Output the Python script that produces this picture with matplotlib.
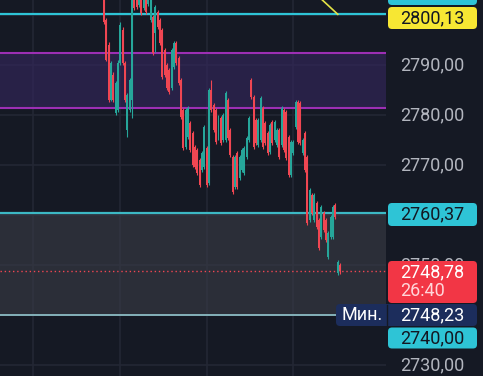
import matplotlib.pyplot as plt
from matplotlib.patches import FancyBboxPatch

# candles, oldest first
opens = [2804.6, 2799.0, 2794.0, 2783.0, 2788.0, 2780.4, 2781.0, 2790.4, 2797.0, 2790.4,
         2777.0, 2781.0, 2783.0, 2803.8, 2803.6, 2802.0, 2804.0, 2801.4, 2803.6, 2802.2,
         2799.0, 2799.6, 2796.4, 2800.6, 2799.0, 2797.0, 2793.0, 2790.0, 2789.0, 2785.4,
         2789.6, 2794.4, 2791.4, 2787.0, 2781.0, 2773.6, 2775.6, 2778.4, 2776.4, 2773.6,
         2773.0, 2771.0, 2769.0, 2769.6, 2773.4, 2766.4, 2785.0, 2782.0, 2781.0, 2775.4,
         2779.4, 2775.0, 2775.0, 2783.0, 2777.0, 2771.6, 2765.6, 2772.4, 2767.4, 2769.0,
         2768.4, 2771.6, 2775.0, 2787.0, 2783.6, 2779.0, 2774.0, 2775.0, 2781.4, 2778.4,
         2776.4, 2772.6, 2778.6, 2775.0, 2774.0, 2777.0, 2774.0, 2781.0, 2780.6, 2775.6,
         2768.0, 2772.4, 2777.6, 2782.6, 2782.4, 2772.4, 2776.4, 2771.6, 2759.0, 2764.0,
         2759.0, 2762.4, 2759.0, 2755.6, 2760.4, 2759.0, 2751.6, 2755.6, 2755.6, 2762.0,
         2748.4, 2750.0]
highs = [2806.0, 2799.4, 2794.6, 2790.8, 2788.6, 2786.8, 2791.0, 2798.6, 2797.6, 2790.8,
         2784.4, 2787.4, 2806.0, 2806.0, 2806.0, 2806.0, 2806.0, 2806.0, 2806.0, 2806.0,
         2806.0, 2800.0, 2802.0, 2801.0, 2799.4, 2797.4, 2793.4, 2790.4, 2789.4, 2793.4,
         2794.8, 2794.8, 2791.8, 2787.4, 2781.4, 2781.4, 2781.8, 2778.8, 2776.8, 2774.0,
         2773.4, 2771.4, 2772.8, 2778.0, 2773.8, 2785.4, 2787.0, 2782.4, 2781.4, 2780.0,
         2779.8, 2780.4, 2784.8, 2783.4, 2777.4, 2772.0, 2772.0, 2772.8, 2772.0, 2773.4,
         2773.8, 2775.8, 2779.8, 2787.4, 2784.0, 2779.4, 2779.4, 2783.8, 2781.8, 2778.8,
         2776.8, 2778.4, 2779.0, 2779.0, 2777.4, 2777.4, 2781.8, 2781.4, 2781.0, 2776.0,
         2775.0, 2775.0, 2783.0, 2783.0, 2782.8, 2775.4, 2776.8, 2772.0, 2765.4, 2764.4,
         2764.4, 2762.8, 2759.4, 2762.0, 2760.8, 2759.4, 2756.8, 2760.0, 2762.0, 2762.4,
         2751.0, 2750.4]
lows = [2798.2, 2790.8, 2782.6, 2782.8, 2782.6, 2780.0, 2780.6, 2790.0, 2790.0, 2782.6,
        2775.6, 2780.6, 2779.4, 2801.0, 2801.2, 2801.6, 2800.0, 2801.0, 2800.2, 2801.8,
        2798.6, 2792.0, 2792.6, 2797.2, 2794.0, 2787.2, 2787.6, 2785.0, 2784.2, 2785.0,
        2789.2, 2790.0, 2786.0, 2779.2, 2773.0, 2773.2, 2775.2, 2772.6, 2769.6, 2769.2,
        2768.0, 2765.6, 2768.6, 2769.2, 2765.6, 2766.0, 2780.6, 2776.6, 2774.2, 2775.0,
        2774.0, 2774.6, 2774.6, 2775.0, 2771.6, 2764.2, 2765.2, 2765.2, 2767.0, 2768.6,
        2768.0, 2771.2, 2774.6, 2783.2, 2773.2, 2774.0, 2773.6, 2774.6, 2773.2, 2774.0,
        2772.0, 2772.2, 2774.0, 2774.6, 2773.6, 2771.2, 2773.6, 2772.6, 2771.0, 2767.6,
        2767.6, 2772.0, 2777.2, 2774.2, 2774.0, 2772.0, 2768.6, 2758.0, 2758.6, 2760.0,
        2758.6, 2757.2, 2753.0, 2755.2, 2756.6, 2754.6, 2751.2, 2755.2, 2755.2, 2759.2,
        2748.0, 2748.2]
closes = [2798.6, 2791.0, 2783.0, 2790.4, 2783.0, 2786.4, 2790.4, 2798.0, 2790.4, 2783.0,
          2784.0, 2787.0, 2803.0, 2801.4, 2801.6, 2803.8, 2800.4, 2804.0, 2800.6, 2804.2,
          2804.0, 2792.4, 2801.6, 2797.6, 2794.4, 2787.6, 2788.0, 2785.4, 2784.6, 2793.0,
          2794.4, 2790.4, 2786.4, 2779.6, 2773.4, 2781.0, 2781.4, 2773.0, 2770.0, 2769.6,
          2768.4, 2766.0, 2772.4, 2777.6, 2766.0, 2785.0, 2781.0, 2777.0, 2774.6, 2779.6,
          2774.4, 2780.0, 2784.4, 2775.4, 2772.0, 2764.6, 2771.6, 2765.6, 2771.6, 2773.0,
          2773.4, 2775.4, 2779.4, 2783.6, 2773.6, 2774.4, 2779.0, 2783.4, 2773.6, 2774.4,
          2772.4, 2778.0, 2774.4, 2778.6, 2777.0, 2771.6, 2781.4, 2773.0, 2771.4, 2768.0,
          2774.6, 2774.6, 2782.6, 2774.6, 2774.4, 2775.0, 2769.0, 2758.4, 2765.0, 2760.4,
          2764.0, 2757.6, 2753.4, 2761.6, 2757.0, 2755.0, 2756.4, 2759.6, 2761.6, 2759.6,
          2750.6, 2748.78]

# drawn levels
level_top = 2800.13
zone_purple = (2781.4, 2792.4)
level_upper = 2760.37
level_lower = 2740.00
last_price = 2748.78
min_price = 2748.23
countdown = '26:40'
min_label = 'Мин.'
axis_ticks = [2790.00, 2780.00, 2770.00, 2750.00, 2730.00]
trend_x = [92.0, 100.0]
trend_y = [2803.6, 2800.13]

BG = '#151924'
GRID = '#232734'
TEAL = '#26a69a'
RED = '#f04652'
CYAN = '#2ec4d6'
W, H = 483, 376
CHART_W = 386
FS = 13


def fmt(v):
    return f'{v:.2f}'.replace('.', ',')


plt.rcParams['font.family'] = ['Roboto', 'DejaVu Sans']
fig = plt.figure(figsize=(W / 100, H / 100), dpi=100, facecolor=BG)
ax = fig.add_axes([0, 0, CHART_W / W, 1])
ax.set_facecolor(BG)
ax.set_xlim(-44.4, 120.6)
ax.set_ylim(2727.8, 2803.0)
ax.axis('off')

# grid
for gx in [-30.3, 6.9, 44.1, 80.8]:
    ax.axvline(gx, color=GRID, lw=1.2, zorder=0)
for gy in [2800, 2790, 2780, 2770, 2760, 2750, 2740, 2730]:
    ax.axhline(gy, color=GRID, lw=1.2, zorder=0)

# zones
ax.axhspan(zone_purple[0], zone_purple[1], color='#35275f', alpha=0.6, lw=0, zorder=1)
ax.axhline(zone_purple[0], color='#9c2fb4', lw=1.5, zorder=2)
ax.axhline(zone_purple[1], color='#9c2fb4', lw=1.5, zorder=2)
ax.axhspan(level_lower, level_upper, color='#3a3d47', alpha=0.6, lw=0, zorder=1)
ax.axhline(level_top, color=CYAN, lw=1.6, zorder=2)
ax.axhline(level_upper, color='#3cb8c4', lw=1.6, zorder=2)
ax.axhline(level_lower, color='#8cbcc4', lw=1.3, zorder=2)
ax.axhline(last_price, color=RED, lw=1.0, ls=(0, (1, 2)), zorder=2)

# candles
for i, (o, h, l, c) in enumerate(zip(opens, highs, lows, closes)):
    col = TEAL if c >= o else RED
    ax.vlines(i, l, h, color=col, lw=0.8, zorder=3)
    ax.bar(i, abs(c - o), bottom=min(o, c), width=0.85, color=col, lw=0, zorder=3)

ax.plot(trend_x, trend_y, color='#e4e346', lw=1.2, zorder=4)

# price scale labels, x in pixels, y in price
lab = fig.add_axes([0, 0, 1, 1], sharey=ax)
lab.set_xlim(0, W)
lab.patch.set_visible(False)
lab.axis('off')
pp = (2803.0 - 2727.8) / H  # price per pixel


def tag(x0, x1, yc, hpx, color, zo=5):
    h = hpx * pp
    lab.add_patch(FancyBboxPatch((x0, yc - h / 2), x1 - x0, h,
                                 boxstyle='round,pad=0,rounding_size=4',
                                 mutation_aspect=pp, fc=color, ec='none', zorder=zo))


def label(y, s, color):
    lab.text(TX, y, s, color=color, fontsize=FS, ha='left', va='center', zorder=6)


TX = 400
for t in axis_ticks:
    lab.text(TX, t, fmt(t), color='#b2b5be', fontsize=FS, ha='left', va='center', zorder=4)

tag(388, 477, 2804.2, 22, CYAN)
tag(388, 477, 2799.4, 22, '#f7e733')
label(2799.4, fmt(level_top), '#131722')
tag(388, 477, 2760.1, 23, CYAN)
label(2760.1, fmt(level_upper), '#131722')
tag(388, 477, 2746.6, 42, '#f23645')
label(2748.6, fmt(last_price), 'white')
label(2744.8, countdown, '#ffd6da')
tag(336, 477, 2740.0, 22, '#1c2d5c')
lab.plot([387, 387], [2737.9, 2742.1], color=BG, lw=1, zorder=6)
lab.text(362, 2740.0, min_label, color='white', fontsize=FS, ha='center', va='center', zorder=6)
label(2740.0, fmt(min_price), 'white')
tag(388, 477, 2735.4, 21, CYAN)
label(2735.4, fmt(level_lower), '#131722')

fig.savefig('out.png', dpi=100, facecolor=BG)
